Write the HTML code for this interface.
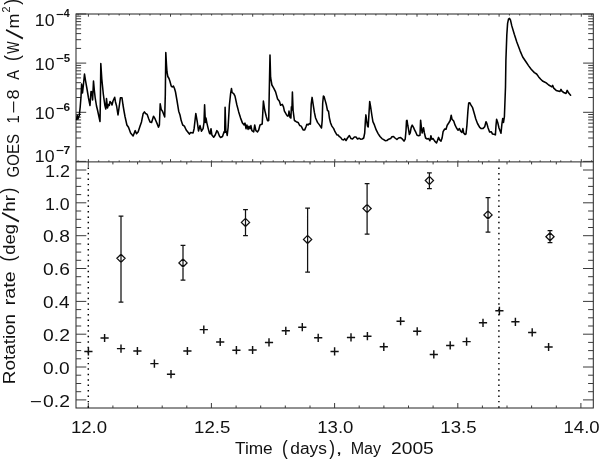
<!DOCTYPE html>
<html lang="en"><head><meta charset="utf-8"><title>GOES flux and rotation rate</title>
<style>
html,body{margin:0;padding:0;background:#fff;}
body{width:600px;height:459px;overflow:hidden;}
svg{display:block;}
text{font-family:"Liberation Sans","DejaVu Sans",sans-serif;fill:#111;}
.ax{stroke:#222;stroke-width:1.0;fill:none;stroke-linecap:butt;}
.tk{stroke:#3a3a3a;stroke-width:1;fill:none;}
.cv{stroke:#000;stroke-width:1.55;fill:none;stroke-linejoin:round;stroke-linecap:round;}
.sy{stroke:#111;stroke-width:1.25;fill:none;}
.dt{stroke:#000;stroke-width:1.45;fill:none;stroke-dasharray:1.45 3.975;}
</style></head><body>
<svg width="600" height="459" viewBox="0 0 600 459">
<rect x="0" y="0" width="600" height="459" fill="#fff"/>
<rect class="ax" x="76.0" y="14.0" width="517.3" height="394.0"/>
<line class="ax" x1="76.0" y1="161.9" x2="593.3" y2="161.9"/>
<path class="tk" d="M76.0 14.0 L86.2 14.0 M593.3 14.0 L583.1 14.0 M76.0 48.4 L81.1 48.4 M593.3 48.4 L588.2 48.4 M76.0 39.7 L81.1 39.7 M593.3 39.7 L588.2 39.7 M76.0 33.6 L81.1 33.6 M593.3 33.6 L588.2 33.6 M76.0 28.8 L81.1 28.8 M593.3 28.8 L588.2 28.8 M76.0 24.9 L81.1 24.9 M593.3 24.9 L588.2 24.9 M76.0 21.6 L81.1 21.6 M593.3 21.6 L588.2 21.6 M76.0 18.8 L81.1 18.8 M593.3 18.8 L588.2 18.8 M76.0 16.2 L81.1 16.2 M593.3 16.2 L588.2 16.2 M76.0 63.1 L86.2 63.1 M593.3 63.1 L583.1 63.1 M76.0 97.5 L81.1 97.5 M593.3 97.5 L588.2 97.5 M76.0 88.8 L81.1 88.8 M593.3 88.8 L588.2 88.8 M76.0 82.7 L81.1 82.7 M593.3 82.7 L588.2 82.7 M76.0 77.9 L81.1 77.9 M593.3 77.9 L588.2 77.9 M76.0 74.1 L81.1 74.1 M593.3 74.1 L588.2 74.1 M76.0 70.8 L81.1 70.8 M593.3 70.8 L588.2 70.8 M76.0 67.9 L81.1 67.9 M593.3 67.9 L588.2 67.9 M76.0 65.4 L81.1 65.4 M593.3 65.4 L588.2 65.4 M76.0 112.3 L86.2 112.3 M593.3 112.3 L583.1 112.3 M76.0 146.7 L81.1 146.7 M593.3 146.7 L588.2 146.7 M76.0 138.0 L81.1 138.0 M593.3 138.0 L588.2 138.0 M76.0 131.9 L81.1 131.9 M593.3 131.9 L588.2 131.9 M76.0 127.1 L81.1 127.1 M593.3 127.1 L588.2 127.1 M76.0 123.2 L81.1 123.2 M593.3 123.2 L588.2 123.2 M76.0 119.9 L81.1 119.9 M593.3 119.9 L588.2 119.9 M76.0 117.1 L81.1 117.1 M593.3 117.1 L588.2 117.1 M76.0 114.5 L81.1 114.5 M593.3 114.5 L588.2 114.5 M76.0 161.4 L86.2 161.4 M593.3 161.4 L583.1 161.4 M78.1 14.0 L78.1 15.5 M78.1 161.9 L78.1 160.4 M88.4 14.0 L88.4 16.7 M88.4 161.9 L88.4 159.2 M98.7 14.0 L98.7 15.5 M98.7 161.9 L98.7 160.4 M108.9 14.0 L108.9 15.5 M108.9 161.9 L108.9 160.4 M119.2 14.0 L119.2 15.5 M119.2 161.9 L119.2 160.4 M129.5 14.0 L129.5 15.5 M129.5 161.9 L129.5 160.4 M139.7 14.0 L139.7 15.5 M139.7 161.9 L139.7 160.4 M150.0 14.0 L150.0 15.5 M150.0 161.9 L150.0 160.4 M160.3 14.0 L160.3 15.5 M160.3 161.9 L160.3 160.4 M170.5 14.0 L170.5 16.7 M170.5 161.9 L170.5 159.2 M180.8 14.0 L180.8 15.5 M180.8 161.9 L180.8 160.4 M191.1 14.0 L191.1 15.5 M191.1 161.9 L191.1 160.4 M201.3 14.0 L201.3 15.5 M201.3 161.9 L201.3 160.4 M211.6 14.0 L211.6 15.5 M211.6 161.9 L211.6 160.4 M221.9 14.0 L221.9 15.5 M221.9 161.9 L221.9 160.4 M232.2 14.0 L232.2 15.5 M232.2 161.9 L232.2 160.4 M242.4 14.0 L242.4 15.5 M242.4 161.9 L242.4 160.4 M252.7 14.0 L252.7 16.7 M252.7 161.9 L252.7 159.2 M263.0 14.0 L263.0 15.5 M263.0 161.9 L263.0 160.4 M273.2 14.0 L273.2 15.5 M273.2 161.9 L273.2 160.4 M283.5 14.0 L283.5 15.5 M283.5 161.9 L283.5 160.4 M293.8 14.0 L293.8 15.5 M293.8 161.9 L293.8 160.4 M304.0 14.0 L304.0 15.5 M304.0 161.9 L304.0 160.4 M314.3 14.0 L314.3 15.5 M314.3 161.9 L314.3 160.4 M324.6 14.0 L324.6 15.5 M324.6 161.9 L324.6 160.4 M334.8 14.0 L334.8 16.7 M334.8 161.9 L334.8 159.2 M345.1 14.0 L345.1 15.5 M345.1 161.9 L345.1 160.4 M355.4 14.0 L355.4 15.5 M355.4 161.9 L355.4 160.4 M365.6 14.0 L365.6 15.5 M365.6 161.9 L365.6 160.4 M375.9 14.0 L375.9 15.5 M375.9 161.9 L375.9 160.4 M386.2 14.0 L386.2 15.5 M386.2 161.9 L386.2 160.4 M396.4 14.0 L396.4 15.5 M396.4 161.9 L396.4 160.4 M406.7 14.0 L406.7 15.5 M406.7 161.9 L406.7 160.4 M417.0 14.0 L417.0 16.7 M417.0 161.9 L417.0 159.2 M427.2 14.0 L427.2 15.5 M427.2 161.9 L427.2 160.4 M437.5 14.0 L437.5 15.5 M437.5 161.9 L437.5 160.4 M447.8 14.0 L447.8 15.5 M447.8 161.9 L447.8 160.4 M458.0 14.0 L458.0 15.5 M458.0 161.9 L458.0 160.4 M468.3 14.0 L468.3 15.5 M468.3 161.9 L468.3 160.4 M478.6 14.0 L478.6 15.5 M478.6 161.9 L478.6 160.4 M488.9 14.0 L488.9 15.5 M488.9 161.9 L488.9 160.4 M499.1 14.0 L499.1 16.7 M499.1 161.9 L499.1 159.2 M509.4 14.0 L509.4 15.5 M509.4 161.9 L509.4 160.4 M519.7 14.0 L519.7 15.5 M519.7 161.9 L519.7 160.4 M529.9 14.0 L529.9 15.5 M529.9 161.9 L529.9 160.4 M540.2 14.0 L540.2 15.5 M540.2 161.9 L540.2 160.4 M550.5 14.0 L550.5 15.5 M550.5 161.9 L550.5 160.4 M560.7 14.0 L560.7 15.5 M560.7 161.9 L560.7 160.4 M571.0 14.0 L571.0 15.5 M571.0 161.9 L571.0 160.4 M581.3 14.0 L581.3 16.7 M581.3 161.9 L581.3 159.2 M591.5 14.0 L591.5 15.5 M591.5 161.9 L591.5 160.4 M88.3 161.9 L88.3 166.9 M88.3 408.0 L88.3 403.0 M112.9 161.9 L112.9 164.4 M112.9 408.0 L112.9 405.5 M137.6 161.9 L137.6 164.4 M137.6 408.0 L137.6 405.5 M162.2 161.9 L162.2 164.4 M162.2 408.0 L162.2 405.5 M186.8 161.9 L186.8 164.4 M186.8 408.0 L186.8 405.5 M211.4 161.9 L211.4 166.9 M211.4 408.0 L211.4 403.0 M236.1 161.9 L236.1 164.4 M236.1 408.0 L236.1 405.5 M260.7 161.9 L260.7 164.4 M260.7 408.0 L260.7 405.5 M285.3 161.9 L285.3 164.4 M285.3 408.0 L285.3 405.5 M310.0 161.9 L310.0 164.4 M310.0 408.0 L310.0 405.5 M334.6 161.9 L334.6 166.9 M334.6 408.0 L334.6 403.0 M359.2 161.9 L359.2 164.4 M359.2 408.0 L359.2 405.5 M383.9 161.9 L383.9 164.4 M383.9 408.0 L383.9 405.5 M408.5 161.9 L408.5 164.4 M408.5 408.0 L408.5 405.5 M433.1 161.9 L433.1 164.4 M433.1 408.0 L433.1 405.5 M457.8 161.9 L457.8 166.9 M457.8 408.0 L457.8 403.0 M482.4 161.9 L482.4 164.4 M482.4 408.0 L482.4 405.5 M507.0 161.9 L507.0 164.4 M507.0 408.0 L507.0 405.5 M531.6 161.9 L531.6 164.4 M531.6 408.0 L531.6 405.5 M556.3 161.9 L556.3 164.4 M556.3 408.0 L556.3 405.5 M580.9 161.9 L580.9 166.9 M580.9 408.0 L580.9 403.0 M76.0 399.9 L86.3 399.9 M593.3 399.9 L583.0 399.9 M76.0 391.7 L81.2 391.7 M593.3 391.7 L588.1 391.7 M76.0 383.5 L81.2 383.5 M593.3 383.5 L588.1 383.5 M76.0 375.2 L81.2 375.2 M593.3 375.2 L588.1 375.2 M76.0 367.0 L86.3 367.0 M593.3 367.0 L583.0 367.0 M76.0 358.8 L81.2 358.8 M593.3 358.8 L588.1 358.8 M76.0 350.6 L81.2 350.6 M593.3 350.6 L588.1 350.6 M76.0 342.4 L81.2 342.4 M593.3 342.4 L588.1 342.4 M76.0 334.2 L86.3 334.2 M593.3 334.2 L583.0 334.2 M76.0 326.0 L81.2 326.0 M593.3 326.0 L588.1 326.0 M76.0 317.8 L81.2 317.8 M593.3 317.8 L588.1 317.8 M76.0 309.6 L81.2 309.6 M593.3 309.6 L588.1 309.6 M76.0 301.4 L86.3 301.4 M593.3 301.4 L583.0 301.4 M76.0 293.1 L81.2 293.1 M593.3 293.1 L588.1 293.1 M76.0 284.9 L81.2 284.9 M593.3 284.9 L588.1 284.9 M76.0 276.7 L81.2 276.7 M593.3 276.7 L588.1 276.7 M76.0 268.5 L86.3 268.5 M593.3 268.5 L583.0 268.5 M76.0 260.3 L81.2 260.3 M593.3 260.3 L588.1 260.3 M76.0 252.1 L81.2 252.1 M593.3 252.1 L588.1 252.1 M76.0 243.9 L81.2 243.9 M593.3 243.9 L588.1 243.9 M76.0 235.7 L86.3 235.7 M593.3 235.7 L583.0 235.7 M76.0 227.5 L81.2 227.5 M593.3 227.5 L588.1 227.5 M76.0 219.3 L81.2 219.3 M593.3 219.3 L588.1 219.3 M76.0 211.0 L81.2 211.0 M593.3 211.0 L588.1 211.0 M76.0 202.8 L86.3 202.8 M593.3 202.8 L583.0 202.8 M76.0 194.6 L81.2 194.6 M593.3 194.6 L588.1 194.6 M76.0 186.4 L81.2 186.4 M593.3 186.4 L588.1 186.4 M76.0 178.2 L81.2 178.2 M593.3 178.2 L588.1 178.2 M76.0 170.0 L86.3 170.0 M593.3 170.0 L583.0 170.0"/>
<line class="dt" x1="88.3" y1="167.6" x2="88.3" y2="408.0"/>
<line class="dt" x1="498.9" y1="167.6" x2="498.9" y2="408.0"/>
<path class="cv" d="M76.6 119.5 L77.2 115.5 L78.0 119.0 L79.3 115.5 L80.2 107.0 L81.0 97.0 L81.6 84.0 L82.5 93.0 L83.5 84.0 L84.5 74.0 L85.6 81.0 L87.0 89.0 L88.5 98.0 L90.0 105.5 L91.0 91.5 L92.0 92.0 L92.6 100.0 L93.5 81.0 L94.3 90.0 L95.2 98.0 L96.5 106.0 L97.5 110.0 L98.8 116.0 L100.0 121.5 L100.4 100.0 L100.8 63.5 L101.8 79.0 L103.3 94.0 L104.8 105.0 L105.8 109.0 L106.5 98.5 L107.5 108.0 L108.5 104.5 L109.3 105.5 L110.0 101.5 L111.3 103.0 L112.0 105.0 L113.0 101.0 L114.7 97.3 L115.5 102.0 L116.6 106.0 L118.0 115.0 L119.0 108.0 L120.4 97.8 L122.0 97.8 L123.0 105.0 L124.0 111.0 L125.0 116.5 L126.9 125.0 L128.5 127.3 L130.6 133.0 L133.1 136.0 L135.2 130.6 L136.5 133.7 L138.1 131.9 L140.0 126.2 L141.5 121.9 L143.1 113.8 L144.4 111.9 L145.6 113.5 L147.2 114.4 L148.7 118.7 L150.0 121.9 L151.6 122.5 L153.5 116.2 L155.0 118.7 L156.9 123.1 L158.5 127.1 L159.4 125.0 L160.2 103.8 L161.2 109.4 L162.5 111.2 L164.7 116.9 L165.3 95.0 L165.8 52.5 L166.5 65.0 L167.0 72.0 L167.8 76.5 L169.0 78.5 L170.0 81.5 L171.2 86.0 L172.2 87.0 L173.4 86.0 L174.5 88.5 L175.5 92.0 L176.9 100.0 L178.7 111.2 L180.0 115.0 L181.2 120.6 L182.7 125.0 L184.4 126.2 L186.2 130.0 L189.4 134.1 L190.6 132.5 L193.1 132.9 L194.1 128.7 L195.8 113.5 L197.3 122.0 L198.5 131.0 L200.0 125.6 L201.5 131.2 L203.1 128.7 L204.0 122.5 L204.6 104.7 L205.4 122.5 L206.0 118.1 L206.9 123.1 L208.1 128.1 L209.4 133.1 L210.2 134.0 L211.0 128.7 L211.9 135.0 L213.7 137.2 L215.2 135.0 L216.9 130.6 L217.9 131.9 L219.4 136.0 L220.6 137.5 L222.5 136.5 L224.0 131.9 L224.7 132.5 L225.1 107.2 L225.9 132.2 L226.5 131.5 L227.2 135.4 L228.1 127.5 L229.4 105.0 L230.6 93.7 L231.5 88.5 L232.1 92.5 L233.7 93.7 L235.0 96.2 L236.9 105.0 L238.7 111.9 L240.6 118.1 L242.5 123.1 L244.1 125.0 L245.0 123.1 L246.0 128.7 L246.9 125.0 L248.1 129.4 L249.0 126.2 L250.0 128.7 L250.9 125.6 L251.9 130.6 L253.7 131.9 L254.7 125.0 L255.9 130.6 L257.5 131.9 L258.7 130.0 L260.0 125.0 L262.2 124.0 L263.4 101.0 L264.7 110.0 L266.2 116.2 L267.5 120.6 L268.7 120.6 L269.3 90.0 L270.0 55.0 L270.6 77.5 L271.9 85.0 L273.7 88.1 L275.6 91.9 L277.6 99.0 L279.4 101.2 L280.6 105.2 L282.3 104.4 L283.5 106.8 L284.4 111.1 L286.2 114.2 L287.5 116.1 L288.5 115.7 L289.0 111.1 L290.0 117.4 L290.9 118.0 L291.4 106.7 L291.9 109.9 L292.4 92.1 L293.1 110.5 L294.4 120.5 L296.2 121.7 L298.1 122.4 L299.7 125.5 L301.2 126.1 L303.1 129.9 L304.7 129.9 L306.0 126.7 L306.9 124.2 L308.1 124.9 L309.4 123.6 L310.4 124.2 L311.2 104.2 L312.1 97.4 L313.1 104.2 L314.4 112.4 L315.6 118.0 L317.5 122.4 L319.4 124.9 L321.5 128.0 L322.2 120.5 L322.7 103.0 L323.4 96.1 L324.1 96.7 L325.0 99.9 L326.2 104.2 L327.5 110.5 L328.5 111.1 L329.4 118.0 L330.6 123.0 L331.9 126.1 L333.7 128.6 L335.0 131.7 L336.9 134.9 L338.1 134.9 L339.4 136.7 L340.6 137.4 L342.2 139.6 L343.7 139.9 L344.7 138.6 L346.0 140.5 L347.5 138.0 L349.4 135.5 L351.0 138.6 L352.5 139.0 L354.4 137.0 L356.0 137.1 L357.5 139.0 L359.1 138.2 L360.6 139.2 L362.2 139.0 L363.7 138.0 L364.7 133.0 L365.4 120.5 L365.9 114.9 L366.6 120.5 L367.5 126.1 L368.2 127.0 L369.0 113.0 L369.7 101.5 L370.6 106.7 L371.9 115.5 L372.9 121.7 L374.4 124.9 L376.2 129.9 L378.1 133.6 L380.0 136.5 L381.9 138.6 L383.7 139.6 L385.2 140.7 L386.9 140.5 L388.7 139.2 L390.6 138.6 L391.9 136.7 L393.5 136.5 L395.0 138.0 L396.9 139.5 L398.5 138.0 L400.6 137.6 L402.5 139.2 L404.0 141.1 L405.2 139.2 L406.0 130.5 L406.5 120.7 L407.0 120.2 L407.8 125.5 L408.5 129.2 L409.4 134.5 L410.2 133.0 L411.2 127.4 L412.2 125.1 L413.5 127.4 L414.7 130.2 L416.0 132.7 L417.1 135.2 L418.7 135.7 L420.0 135.2 L420.6 120.2 L421.2 125.5 L422.1 133.0 L423.5 127.7 L424.4 133.0 L425.6 138.0 L427.2 139.0 L428.5 138.6 L430.0 140.7 L430.9 135.7 L431.9 139.2 L433.1 138.6 L434.7 141.1 L436.5 143.0 L437.5 140.5 L438.5 137.4 L439.7 139.9 L441.0 141.1 L442.1 138.0 L443.1 131.7 L444.7 129.0 L446.0 129.2 L447.2 125.2 L448.7 123.0 L450.2 120.5 L451.2 115.2 L452.0 119.2 L453.7 121.1 L455.0 124.9 L456.5 128.0 L458.1 130.2 L459.4 128.6 L460.6 131.1 L461.9 132.4 L462.9 128.6 L463.7 133.0 L465.0 134.5 L466.0 134.0 L466.9 125.5 L467.9 111.1 L468.7 103.0 L469.7 102.7 L471.0 105.2 L472.6 107.7 L474.2 113.3 L475.8 119.0 L477.5 123.5 L479.7 127.4 L481.2 128.6 L483.1 128.4 L484.7 126.7 L486.0 121.7 L486.9 123.6 L488.1 128.0 L489.6 132.0 L491.2 131.7 L492.5 134.0 L494.0 134.2 L495.4 134.9 L496.0 125.5 L496.6 119.2 L497.7 122.4 L499.0 128.0 L501.0 133.2 L501.9 124.2 L502.7 118.6 L503.5 122.4 L504.4 116.7 L505.0 100.5 L505.5 87.0 L505.9 60.3 L506.8 35.2 L507.6 23.4 L508.5 19.2 L509.5 18.4 L510.5 20.1 L511.8 25.9 L514.3 34.3 L516.8 41.9 L520.2 51.1 L522.7 57.0 L526.1 62.0 L528.5 65.6 L531.2 69.3 L534.4 72.6 L536.6 74.0 L538.7 76.9 L540.5 79.0 L542.5 81.0 L544.5 82.0 L546.2 82.9 L548.7 85.0 L551.9 86.9 L552.7 85.4 L553.7 88.1 L556.2 90.4 L560.0 91.5 L561.0 89.4 L561.9 91.2 L563.7 92.5 L566.0 93.5 L567.2 90.4 L568.7 93.1 L570.6 95.2"/>
<path class="sy" d="M116.9 258.3 L121.0 254.2 L125.1 258.3 L121.0 262.4 Z M121.0 216.0 L121.0 302.1 M118.6 216.0 L123.4 216.0 M118.6 302.1 L123.4 302.1 M178.9 262.9 L183.0 258.8 L187.1 262.9 L183.0 267.0 Z M183.0 245.4 L183.0 280.1 M180.6 245.4 L185.4 245.4 M180.6 280.1 L185.4 280.1 M241.4 222.4 L245.5 218.3 L249.6 222.4 L245.5 226.5 Z M245.5 209.5 L245.5 235.7 M243.1 209.5 L247.9 209.5 M243.1 235.7 L247.9 235.7 M303.5 239.4 L307.6 235.3 L311.7 239.4 L307.6 243.5 Z M307.6 208.1 L307.6 272.2 M305.2 208.1 L310.0 208.1 M305.2 272.2 L310.0 272.2 M363.0 208.5 L367.1 204.4 L371.2 208.5 L367.1 212.6 Z M367.1 183.5 L367.1 234.1 M364.7 183.5 L369.5 183.5 M364.7 234.1 L369.5 234.1 M425.3 180.5 L429.4 176.4 L433.5 180.5 L429.4 184.6 Z M429.4 172.9 L429.4 188.5 M427.0 172.9 L431.8 172.9 M427.0 188.5 L431.8 188.5 M483.9 214.9 L488.0 210.8 L492.1 214.9 L488.0 219.0 Z M488.0 197.6 L488.0 232.0 M485.6 197.6 L490.4 197.6 M485.6 232.0 L490.4 232.0 M545.9 236.7 L550.0 232.6 L554.1 236.7 L550.0 240.8 Z M550.0 230.7 L550.0 242.7 M547.6 230.7 L552.4 230.7 M547.6 242.7 L552.4 242.7"/>
<path class="sy" style="stroke-width:1.45" d="M84.3 351.4 L92.5 351.4 M88.4 347.3 L88.4 355.5 M100.5 338.0 L108.7 338.0 M104.6 333.9 L104.6 342.1 M116.9 348.6 L125.1 348.6 M121.0 344.5 L121.0 352.7 M133.3 351.0 L141.5 351.0 M137.4 346.9 L137.4 355.1 M150.3 363.6 L158.5 363.6 M154.4 359.5 L154.4 367.7 M166.9 374.2 L175.1 374.2 M171.0 370.1 L171.0 378.3 M183.3 351.0 L191.5 351.0 M187.4 346.9 L187.4 355.1 M199.7 329.6 L207.9 329.6 M203.8 325.5 L203.8 333.7 M216.1 342.0 L224.3 342.0 M220.2 337.9 L220.2 346.1 M232.3 350.2 L240.5 350.2 M236.4 346.1 L236.4 354.3 M248.5 350.0 L256.7 350.0 M252.6 345.9 L252.6 354.1 M264.9 342.4 L273.1 342.4 M269.0 338.3 L269.0 346.5 M281.7 330.8 L289.9 330.8 M285.8 326.7 L285.8 334.9 M298.2 327.2 L306.4 327.2 M302.3 323.1 L302.3 331.3 M314.1 337.8 L322.3 337.8 M318.2 333.7 L318.2 341.9 M330.5 351.4 L338.7 351.4 M334.6 347.3 L334.6 355.5 M346.9 337.4 L355.1 337.4 M351.0 333.3 L351.0 341.5 M363.3 336.2 L371.5 336.2 M367.4 332.1 L367.4 340.3 M379.7 346.8 L387.9 346.8 M383.8 342.7 L383.8 350.9 M396.5 321.2 L404.7 321.2 M400.6 317.1 L400.6 325.3 M413.1 331.3 L421.3 331.3 M417.2 327.2 L417.2 335.4 M429.7 354.4 L437.9 354.4 M433.8 350.3 L433.8 358.5 M446.1 345.4 L454.3 345.4 M450.2 341.3 L450.2 349.5 M462.5 341.6 L470.7 341.6 M466.6 337.5 L466.6 345.7 M478.9 322.8 L487.1 322.8 M483.0 318.7 L483.0 326.9 M495.3 310.8 L503.5 310.8 M499.4 306.7 L499.4 314.9 M511.3 321.8 L519.5 321.8 M515.4 317.7 L515.4 325.9 M528.1 332.4 L536.3 332.4 M532.2 328.3 L532.2 336.5 M544.5 347.0 L552.7 347.0 M548.6 342.9 L548.6 351.1"/>
<text><tspan x="70.90" y="433.00" font-size="15.6" textLength="36.22" lengthAdjust="spacingAndGlyphs">12.0</tspan></text>
<text><tspan x="194.05" y="433.00" font-size="15.6" textLength="36.27" lengthAdjust="spacingAndGlyphs">12.5</tspan></text>
<text><tspan x="317.20" y="433.00" font-size="15.6" textLength="36.22" lengthAdjust="spacingAndGlyphs">13.0</tspan></text>
<text><tspan x="440.35" y="433.00" font-size="15.6" textLength="36.27" lengthAdjust="spacingAndGlyphs">13.5</tspan></text>
<text><tspan x="563.50" y="433.00" font-size="15.6" textLength="36.22" lengthAdjust="spacingAndGlyphs">14.0</tspan></text>
<text><tspan x="44.95" y="176.70" font-size="15.6" textLength="24.95" lengthAdjust="spacingAndGlyphs">1.2</tspan></text>
<text><tspan x="44.97" y="209.50" font-size="15.6" textLength="24.70" lengthAdjust="spacingAndGlyphs">1.0</tspan></text>
<text><tspan x="43.13" y="242.30" font-size="15.6" textLength="26.69" lengthAdjust="spacingAndGlyphs">0.8</tspan></text>
<text><tspan x="43.13" y="275.20" font-size="15.6" textLength="26.69" lengthAdjust="spacingAndGlyphs">0.6</tspan></text>
<text><tspan x="43.14" y="308.00" font-size="15.6" textLength="26.38" lengthAdjust="spacingAndGlyphs">0.4</tspan></text>
<text><tspan x="43.13" y="340.90" font-size="15.6" textLength="26.84" lengthAdjust="spacingAndGlyphs">0.2</tspan></text>
<text><tspan x="43.14" y="373.90" font-size="15.6" textLength="26.59" lengthAdjust="spacingAndGlyphs">0.0</tspan></text>
<text><tspan x="29.87" y="407.30" font-size="16.0" textLength="12.04" lengthAdjust="spacingAndGlyphs">−</tspan><tspan x="43.13" y="406.70" font-size="15.6" textLength="26.84" lengthAdjust="spacingAndGlyphs">0.2</tspan></text>
<text><tspan x="34.87" y="26.20" font-size="15.6" textLength="19.74" lengthAdjust="spacingAndGlyphs">10</tspan><tspan x="55.72" y="17.60" font-size="10.5" font-weight="bold" textLength="7.94" lengthAdjust="spacingAndGlyphs">−</tspan><tspan x="63.84" y="17.30" font-size="10.0" font-weight="bold" textLength="5.93" lengthAdjust="spacingAndGlyphs">4</tspan></text>
<text><tspan x="34.87" y="69.60" font-size="15.6" textLength="19.74" lengthAdjust="spacingAndGlyphs">10</tspan><tspan x="55.72" y="62.40" font-size="10.5" font-weight="bold" textLength="7.94" lengthAdjust="spacingAndGlyphs">−</tspan><tspan x="63.66" y="62.10" font-size="10.0" font-weight="bold" textLength="6.37" lengthAdjust="spacingAndGlyphs">5</tspan></text>
<text><tspan x="34.87" y="119.10" font-size="15.6" textLength="19.74" lengthAdjust="spacingAndGlyphs">10</tspan><tspan x="55.72" y="111.70" font-size="10.5" font-weight="bold" textLength="7.94" lengthAdjust="spacingAndGlyphs">−</tspan><tspan x="63.56" y="111.40" font-size="10.0" font-weight="bold" textLength="6.57" lengthAdjust="spacingAndGlyphs">6</tspan></text>
<text><tspan x="34.87" y="162.20" font-size="15.6" textLength="19.74" lengthAdjust="spacingAndGlyphs">10</tspan><tspan x="55.72" y="154.10" font-size="10.5" font-weight="bold" textLength="7.94" lengthAdjust="spacingAndGlyphs">−</tspan><tspan x="63.48" y="153.80" font-size="10.0" font-weight="bold" textLength="6.75" lengthAdjust="spacingAndGlyphs">7</tspan></text>
<text><tspan x="235.01" y="453.70" font-size="16.0" textLength="37.72" lengthAdjust="spacingAndGlyphs">Time</tspan> <tspan x="281.92" y="454.50" font-size="20.0" textLength="5.78" lengthAdjust="spacingAndGlyphs">(</tspan><tspan x="290.26" y="453.70" font-size="16.0" textLength="36.64" lengthAdjust="spacingAndGlyphs">days</tspan><tspan x="329.27" y="454.50" font-size="20.0" textLength="5.78" lengthAdjust="spacingAndGlyphs">)</tspan><tspan x="335.88" y="453.70" font-size="16.0" textLength="6.55" lengthAdjust="spacingAndGlyphs">,</tspan> <tspan x="350.67" y="453.70" font-size="16.0" textLength="30.35" lengthAdjust="spacingAndGlyphs">May</tspan> <tspan x="391.04" y="453.70" font-size="16.0" textLength="42.77" lengthAdjust="spacingAndGlyphs">2005</tspan></text>
<text transform="translate(18.7 177.0) rotate(-90)"><tspan x="-0.45" y="0.00" font-size="16.0" textLength="43.42" lengthAdjust="spacingAndGlyphs">GOES</tspan> <tspan x="53.49" y="0.00" font-size="16.0" textLength="8.23" lengthAdjust="spacingAndGlyphs">1</tspan><tspan x="63.28" y="0.60" font-size="16.0" textLength="13.12" lengthAdjust="spacingAndGlyphs">−</tspan><tspan x="77.42" y="0.00" font-size="16.0" textLength="10.18" lengthAdjust="spacingAndGlyphs">8</tspan> <tspan x="97.36" y="0.00" font-size="16.0" textLength="9.67" lengthAdjust="spacingAndGlyphs">A</tspan> <tspan x="115.92" y="0.30" font-size="19.8" textLength="5.78" lengthAdjust="spacingAndGlyphs">(</tspan><tspan x="123.13" y="0.00" font-size="16.0" textLength="12.32" lengthAdjust="spacingAndGlyphs">W</tspan><tspan x="137.40" y="3.90" font-size="25.0" rotate="12">/</tspan><tspan x="148.48" y="0.00" font-size="16.0" textLength="14.99" lengthAdjust="spacingAndGlyphs">m</tspan><tspan x="164.56" y="-8.70" font-size="10.5" textLength="5.99" lengthAdjust="spacingAndGlyphs">2</tspan><tspan x="172.27" y="0.30" font-size="19.8" textLength="5.78" lengthAdjust="spacingAndGlyphs">)</tspan></text>
<text transform="translate(14.5 382.5) rotate(-90)"><tspan x="-1.76" y="0.00" font-size="16.0" textLength="70.38" lengthAdjust="spacingAndGlyphs">Rotation</tspan> <tspan x="77.32" y="0.00" font-size="16.0" textLength="33.93" lengthAdjust="spacingAndGlyphs">rate</tspan> <tspan x="120.92" y="0.30" font-size="19.8" textLength="5.78" lengthAdjust="spacingAndGlyphs">(</tspan><tspan x="127.82" y="0.00" font-size="16.0" textLength="30.65" lengthAdjust="spacingAndGlyphs">deg</tspan><tspan x="159.90" y="3.90" font-size="25.0" rotate="12">/</tspan><tspan x="170.88" y="0.00" font-size="16.0" textLength="16.73" lengthAdjust="spacingAndGlyphs">hr</tspan><tspan x="189.07" y="0.30" font-size="19.8" textLength="5.78" lengthAdjust="spacingAndGlyphs">)</tspan></text>
</svg></body></html>
